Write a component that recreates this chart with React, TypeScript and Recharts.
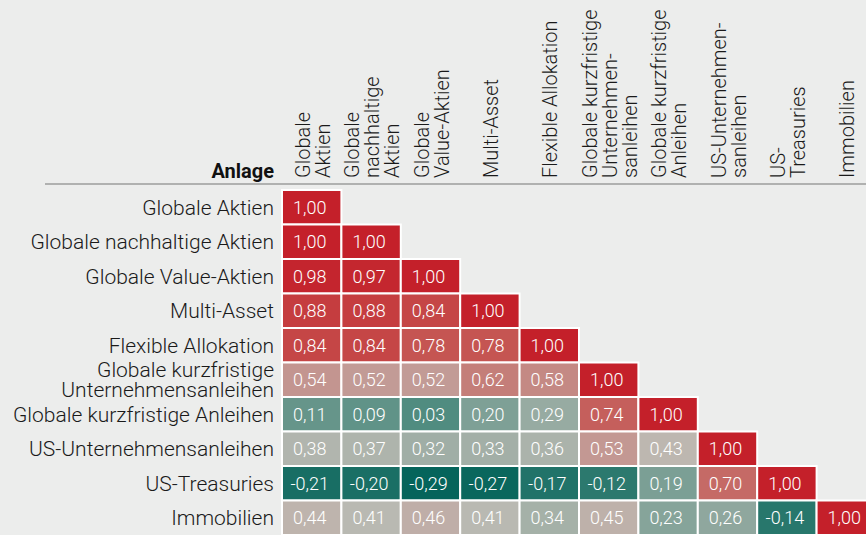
import { ScatterChart, Scatter, XAxis, YAxis, Customized } from "recharts"

// Anlageklassen (Zeilen und Spalten)
const rowLabels = [
  ["Globale Aktien"],
  ["Globale nachhaltige Aktien"],
  ["Globale Value-Aktien"],
  ["Multi-Asset"],
  ["Flexible Allokation"],
  ["Globale kurzfristige", "Unternehmensanleihen"],
  ["Globale kurzfristige Anleihen"],
  ["US-Unternehmensanleihen"],
  ["US-Treasuries"],
  ["Immobilien"],
]

const colLabels = [
  ["Globale", "Aktien"],
  ["Globale", "nachhaltige", "Aktien"],
  ["Globale", "Value-Aktien"],
  ["Multi-Asset"],
  ["Flexible Allokation"],
  ["Globale kurzfristige", "Unternehmen-", "sanleihen"],
  ["Globale kurzfristige", "Anleihen"],
  ["US-Unternehmen-", "sanleihen"],
  ["US-", "Treasuries"],
  ["Immobilien"],
]

// Korrelationen, untere Dreiecksmatrix
const correlations = [
  [1.0],
  [1.0, 1.0],
  [0.98, 0.97, 1.0],
  [0.88, 0.88, 0.84, 1.0],
  [0.84, 0.84, 0.78, 0.78, 1.0],
  [0.54, 0.52, 0.52, 0.62, 0.58, 1.0],
  [0.11, 0.09, 0.03, 0.2, 0.29, 0.74, 1.0],
  [0.38, 0.37, 0.32, 0.33, 0.36, 0.53, 0.43, 1.0],
  [-0.21, -0.2, -0.29, -0.27, -0.17, -0.12, 0.19, 0.7, 1.0],
  [0.44, 0.41, 0.46, 0.41, 0.34, 0.45, 0.23, 0.26, -0.14, 1.0],
]

const headerLabel = "Anlage"

const cells = correlations.flatMap((row, r) => row.map((v, c) => ({ x: c, y: r, v })))
const ticks = rowLabels.map((_, i) => i)

const WIDTH = 880
const HEIGHT = 535
const LEFT = 282
const TOP = 190
const RIGHT = 4
const CELL_W = (WIDTH - LEFT - RIGHT) / 10
const CELL_H = (HEIGHT - TOP) / 10
const FONT = "Roboto, 'Liberation Sans', Arial, sans-serif"

const stops: [number, number[]][] = [
  [-0.3, [3, 99, 90]],
  [0.0, [72, 136, 124]],
  [0.2, [126, 160, 150]],
  [0.42, [188, 186, 179]],
  [0.5, [194, 161, 156]],
  [0.6, [196, 131, 126]],
  [0.8, [197, 80, 77]],
  [1.0, [196, 32, 42]],
]

function colorFor(v: number) {
  if (v <= stops[0][0]) return `rgb(${stops[0][1].join(",")})`
  for (let i = 1; i < stops.length; i++) {
    const [v1, c1] = stops[i]
    const [v0, c0] = stops[i - 1]
    if (v <= v1) {
      const t = (v - v0) / (v1 - v0)
      const c = c0.map((a, k) => Math.round(a + (c1[k] - a) * t))
      return `rgb(${c.join(",")})`
    }
  }
  return `rgb(${stops[stops.length - 1][1].join(",")})`
}

const fmt = (v: number) => v.toFixed(2).replace(".", ",")

function CellShape(props: any) {
  const { cx, cy, payload } = props
  return (
    <g>
      <rect
        x={cx - CELL_W / 2}
        y={cy - CELL_H / 2}
        width={CELL_W}
        height={CELL_H}
        fill={colorFor(payload.v)}
        stroke="#ffffff"
        strokeWidth={2}
      />
      <text x={cx - 2} y={cy + 6.5} textAnchor="middle" fill="#ffffff" fontSize={18} fontWeight={300} fontFamily={FONT}>
        {fmt(payload.v)}
      </text>
    </g>
  )
}

function RowTick(props: any) {
  const { x, y, payload } = props
  const lines = rowLabels[payload.value] || []
  return (
    <text x={x} y={y} textAnchor="end" fill="#1a1a1a" fontSize={21} fontWeight={300} fontFamily={FONT}>
      {lines.map((l, i) => (
        <tspan key={i} x={x} y={y + (i - (lines.length - 1) / 2) * 20 + 7.5}>
          {l}
        </tspan>
      ))}
    </text>
  )
}

function ColTick(props: any) {
  const { x, y, payload } = props
  const lines = colLabels[payload.value] || []
  return (
    <g transform={`translate(${x},${y - 4}) rotate(-90)`}>
      <text textAnchor="start" fill="#1a1a1a" fontSize={20} fontWeight={300} fontFamily={FONT}>
        {lines.map((l, i) => (
          <tspan key={i} x={0} y={(i - (lines.length - 1) / 2) * 20 + 8}>
            {l}
          </tspan>
        ))}
      </text>
    </g>
  )
}

function Header() {
  return (
    <g>
      <line x1={45} x2={WIDTH} y1={TOP - 6} y2={TOP - 6} stroke="#9c9c9c" strokeWidth={1.5} />
      <text x={LEFT - 8} y={TOP - 12} textAnchor="end" fill="#111" fontSize={20} fontWeight={700} fontFamily={FONT}>
        {headerLabel}
      </text>
    </g>
  )
}

export default function App() {
  return (
    <div
      style={{
        position: "fixed",
        left: 0,
        top: 0,
        width: 866,
        height: 535,
        overflow: "hidden",
        background: "#ecedec",
      }}
    >
      <ScatterChart width={WIDTH} height={HEIGHT} margin={{ top: 0, right: RIGHT, left: 0, bottom: 0 }}>
        <XAxis
          type="number"
          dataKey="x"
          orientation="top"
          domain={[-0.5, 9.5]}
          ticks={ticks}
          interval={0}
          height={TOP}
          axisLine={false}
          tickLine={false}
          tick={<ColTick />}
        />
        <YAxis
          type="number"
          dataKey="y"
          domain={[-0.5, 9.5]}
          reversed
          ticks={ticks}
          interval={0}
          width={LEFT}
          axisLine={false}
          tickLine={false}
          tick={<RowTick />}
        />
        <Customized component={Header} />
        <Scatter data={cells} shape={<CellShape />} isAnimationActive={false} />
      </ScatterChart>
    </div>
  )
}
